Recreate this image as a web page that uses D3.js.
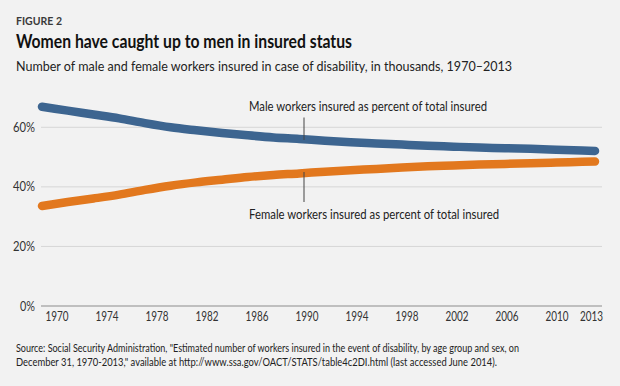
<!DOCTYPE html>
<html>
<head>
<meta charset="utf-8">
<script src="https://cdn.jsdelivr.net/npm/d3@7"></script>
<style>
  body { margin: 0; background: #f2f2f2; }
  svg { display: block; }
  text { font-family: Lato, "Open Sans", sans-serif; }
</style>
</head>
<body>
<div id="chart"></div>
<script>
// data (percent of total insured)
var years = [1970, 1972, 1974, 1976, 1978, 1980, 1982, 1984, 1986, 1988, 1990, 1992,
             1994, 1996, 1998, 2000, 2002, 2004, 2006, 2008, 2010, 2012, 2013];
var male = [66.9, 65.6, 64.3, 63.0, 61.4, 60.0, 59.0, 58.1, 57.3, 56.6, 56.1, 55.5,
            55.0, 54.6, 54.2, 53.8, 53.5, 53.2, 53.0, 52.8, 52.5, 52.2, 52.05];
var female = [33.6, 34.9, 36.1, 37.4, 39.0, 40.4, 41.5, 42.4, 43.3, 44.0, 44.5, 45.1,
              45.6, 46.0, 46.5, 46.9, 47.2, 47.5, 47.7, 47.9, 48.15, 48.4, 48.5];
var yearTicks = [1970, 1974, 1978, 1982, 1986, 1990, 1994, 1998, 2002, 2006, 2010, 2013];
var pctTicks = [0, 20, 40, 60];

var width = 620, height = 386;

// squeeze text to the width it has in the original (condensed face)
function fit(sel, w) {
    return sel.attr("textLength", w).attr("lengthAdjust", "spacingAndGlyphs");
}

var svg = d3.select("#chart").append("svg")
    .attr("width", width)
    .attr("height", height);

svg.append("rect").attr("width", width).attr("height", height).attr("fill", "#f2f2f2");

// titles
fit(svg.append("text").attr("x", 16).attr("y", 25)
    .style("font-weight", "bold").style("font-size", "11px").attr("fill", "#3a3a3a")
    .text("FIGURE 2"), 46);
fit(svg.append("text").attr("x", 16).attr("y", 48)
    .style("font-weight", "bold").style("font-size", "18.5px").attr("fill", "#111")
    .text("Women have caught up to men in insured status"), 336);
fit(svg.append("text").attr("x", 16).attr("y", 71)
    .style("font-size", "14px").attr("fill", "#222")
    .text("Number of male and female workers insured in case of disability, in thousands, 1970\u20132013"), 496);

// scales
var x = d3.scaleLinear().domain([1970, 2013]).range([42, 595]);
var xLab = d3.scaleLinear().domain([1970, 2010]).range([56.5, 556.5]);
var y = d3.scaleLinear().domain([0, 60]).range([306, 127.3]);

// gridlines
svg.append("g").selectAll("line")
    .data(pctTicks.filter(function(d) { return d > 0; }))
    .enter().append("line")
    .attr("x1", 41).attr("x2", 602)
    .attr("y1", function(d) { return y(d); })
    .attr("y2", function(d) { return y(d); })
    .attr("stroke", "#d6d6d6").attr("stroke-width", 1);

svg.append("line")
    .attr("x1", 41).attr("x2", 602)
    .attr("y1", y(0)).attr("y2", y(0))
    .attr("stroke", "#8c8c8c").attr("stroke-width", 1);

// y axis labels
var yAxis = svg.append("g")
    .attr("transform", "translate(35,0)")
    .call(d3.axisLeft(y).tickValues(pctTicks).tickSize(0).tickPadding(0)
        .tickFormat(function(d) { return d + "%"; }));
yAxis.select(".domain").remove();
yAxis.selectAll("text").style("font-family", null).style("font-size", "12.5px").attr("fill", "#333")
    .attr("textLength", function(d) { return d === 0 ? 15 : 22; })
    .attr("lengthAdjust", "spacingAndGlyphs");

// x axis labels
var xAxis = svg.append("g")
    .attr("transform", "translate(0,312)")
    .call(d3.axisBottom(xLab).tickValues(yearTicks).tickSize(0).tickPadding(0)
        .tickFormat(d3.format("d")));
xAxis.select(".domain").remove();
xAxis.selectAll("text").style("font-size", "12.5px").attr("fill", "#333")
    .attr("dx", function(d) { return d === 2013 ? -3 : 0; })
    .attr("textLength", 23).attr("lengthAdjust", "spacingAndGlyphs");
xAxis.attr("font-family", null);

// lines
var line = d3.line()
    .x(function(d) { return x(d[0]); })
    .y(function(d) { return y(d[1]); })
    .curve(d3.curveMonotoneX);

svg.append("path")
    .datum(d3.zip(years, male))
    .attr("d", line)
    .attr("fill", "none").attr("stroke", "#3d6590")
    .attr("stroke-width", 8.5).attr("stroke-linecap", "round");

svg.append("path")
    .datum(d3.zip(years, female))
    .attr("d", line)
    .attr("fill", "none").attr("stroke", "#e2781e")
    .attr("stroke-width", 8.5).attr("stroke-linecap", "round");

// annotations
svg.append("line").attr("x1", 304).attr("x2", 304).attr("y1", 117.5).attr("y2", 140)
    .attr("stroke", "#444").attr("stroke-width", 1);
svg.append("line").attr("x1", 304).attr("x2", 304).attr("y1", 172).attr("y2", 202)
    .attr("stroke", "#444").attr("stroke-width", 1);

fit(svg.append("text").attr("x", 249).attr("y", 110.5)
    .style("font-size", "13px").attr("fill", "#222")
    .text("Male workers insured as percent of total insured"), 238);
fit(svg.append("text").attr("x", 249).attr("y", 218.5)
    .style("font-size", "13px").attr("fill", "#222")
    .text("Female workers insured as percent of total insured"), 250);

// source
fit(svg.append("text").attr("x", 16).attr("y", 352)
    .style("font-size", "10.5px").attr("fill", "#222")
    .text("Source: Social Security Administration, \"Estimated number of workers insured in the event of disability, by age group and sex, on"), 503);
fit(svg.append("text").attr("x", 16).attr("y", 365.5)
    .style("font-size", "10.5px").attr("fill", "#222")
    .text("December 31, 1970-2013,\" available at http://www.ssa.gov/OACT/STATS/table4c2DI.html (last accessed June 2014)."), 481);
</script>
</body>
</html>
